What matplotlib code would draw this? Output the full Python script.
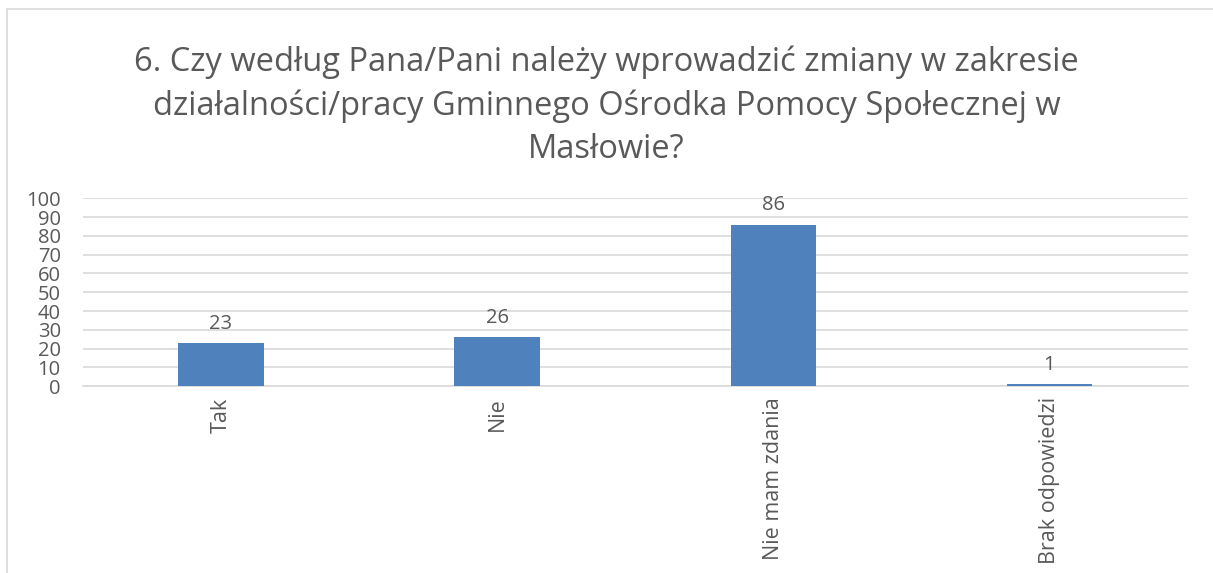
import numpy as np
import matplotlib.pyplot as plt

categories = ["Tak", "Nie", "Nie mam zdania", "Brak odpowiedzi"]
values = [23, 26, 86, 1]
yticks = list(range(0, 101, 10))

title = ("6. Czy według Pana/Pani należy wprowadzić zmiany w zakresie\n"
         "działalności/pracy Gminnego Ośrodka Pomocy Społecznej w\n"
         "Masłowie?")


def main():
    plt.rcParams["font.family"] = ["Open Sans", "DejaVu Sans"]
    text_color = "#595959"
    grid_color = "#D9D9D9"

    fig = plt.figure(figsize=(12.13, 5.73), dpi=100)
    ax = fig.add_axes([0.0684, 0.326, 0.9106, 0.328])

    x = np.arange(len(categories))
    ax.bar(x, values, width=0.31, color="#4F81BD", zorder=3)

    # value labels above bars
    for i, v in enumerate(values):
        ax.text(i, v + 5, str(v), ha="center", va="bottom",
                fontsize=14.5, color=text_color)

    ax.set_xlim(-0.5, len(categories) - 0.5)
    ax.set_ylim(0, 100)
    ax.set_yticks(yticks)
    ax.set_yticklabels([str(t) for t in yticks], fontsize=14.5, color=text_color)
    ax.set_xticks(x)
    ax.set_xticklabels(categories, rotation=90, fontsize=15.5, color=text_color)
    ax.tick_params(axis="x", length=0, pad=8)
    ax.tick_params(axis="y", length=0, pad=16)

    ax.yaxis.grid(True, color=grid_color, linewidth=1.2, zorder=0)
    for side in ["top", "right", "left"]:
        ax.spines[side].set_visible(False)
    ax.spines["bottom"].set_color(grid_color)
    ax.spines["bottom"].set_linewidth(1.2)

    fig.text(0.5, 0.815, title, ha="center", va="center", fontsize=23.5,
             color=text_color, linespacing=1.4)

    # chart frame
    frame = plt.Rectangle((0.006, -0.01), 1.2, 0.995, transform=fig.transFigure,
                          fill=False, edgecolor="#D9D9D9", linewidth=1.2)
    fig.patches.append(frame)

    fig.savefig("out.png", dpi=100)


if __name__ == "__main__":
    main()
